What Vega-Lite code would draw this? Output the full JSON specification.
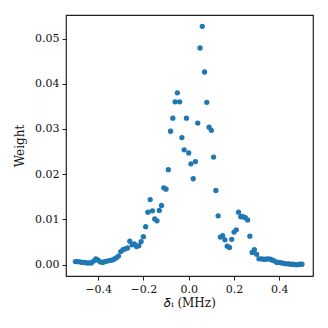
{
  "$schema": "https://vega.github.io/schema/vega-lite/v6.json",
  "width": 247,
  "height": 261,
  "autosize": {"type": "none"},
  "padding": {"left": 66, "top": 15, "right": 15, "bottom": 52},
  "background": "white",
  "config": {
    "view": {"stroke": "#222", "strokeWidth": 1.2},
    "font": "DejaVu Serif",
    "axis": {
      "domain": false,
      "grid": false,
      "tickColor": "#222",
      "tickSize": 4,
      "tickWidth": 1,
      "labelFont": "DejaVu Serif",
      "labelFontSize": 11,
      "labelColor": "#111",
      "labelPadding": 3,
      "titleFont": "DejaVu Serif",
      "titleFontSize": 12,
      "titleFontWeight": "normal",
      "titleColor": "#111"
    }
  },
  "data": {"values": [
    {"x": -0.500, "y": 0.0007}, {"x": -0.490, "y": 0.0007}, {"x": -0.480, "y": 0.0006},
    {"x": -0.470, "y": 0.0005}, {"x": -0.460, "y": 0.0005}, {"x": -0.450, "y": 0.0004},
    {"x": -0.440, "y": 0.0004}, {"x": -0.430, "y": 0.0004}, {"x": -0.420, "y": 0.0008},
    {"x": -0.410, "y": 0.0013}, {"x": -0.400, "y": 0.0010}, {"x": -0.390, "y": 0.0006},
    {"x": -0.380, "y": 0.0005}, {"x": -0.370, "y": 0.0007}, {"x": -0.360, "y": 0.0008},
    {"x": -0.350, "y": 0.0009}, {"x": -0.340, "y": 0.0010}, {"x": -0.330, "y": 0.0012},
    {"x": -0.320, "y": 0.0015}, {"x": -0.310, "y": 0.0019}, {"x": -0.300, "y": 0.0029},
    {"x": -0.290, "y": 0.0033}, {"x": -0.280, "y": 0.0035}, {"x": -0.270, "y": 0.0037},
    {"x": -0.260, "y": 0.0052}, {"x": -0.250, "y": 0.0044}, {"x": -0.240, "y": 0.0046},
    {"x": -0.230, "y": 0.0040}, {"x": -0.220, "y": 0.0042}, {"x": -0.210, "y": 0.0051},
    {"x": -0.200, "y": 0.0062}, {"x": -0.190, "y": 0.0084}, {"x": -0.180, "y": 0.0116},
    {"x": -0.170, "y": 0.0144}, {"x": -0.160, "y": 0.0119}, {"x": -0.150, "y": 0.0101},
    {"x": -0.140, "y": 0.0097}, {"x": -0.130, "y": 0.0120}, {"x": -0.120, "y": 0.0131},
    {"x": -0.110, "y": 0.0170}, {"x": -0.100, "y": 0.0167}, {"x": -0.090, "y": 0.0210},
    {"x": -0.080, "y": 0.0295}, {"x": -0.070, "y": 0.0324}, {"x": -0.060, "y": 0.0360},
    {"x": -0.050, "y": 0.0380}, {"x": -0.040, "y": 0.0360}, {"x": -0.030, "y": 0.0281},
    {"x": -0.020, "y": 0.0254}, {"x": -0.010, "y": 0.0324}, {"x": 0.000, "y": 0.0247},
    {"x": 0.010, "y": 0.0223}, {"x": 0.020, "y": 0.0190}, {"x": 0.030, "y": 0.0228},
    {"x": 0.040, "y": 0.0313}, {"x": 0.050, "y": 0.0479}, {"x": 0.060, "y": 0.0527},
    {"x": 0.070, "y": 0.0426}, {"x": 0.080, "y": 0.0359}, {"x": 0.090, "y": 0.0304},
    {"x": 0.100, "y": 0.0297}, {"x": 0.110, "y": 0.0238}, {"x": 0.120, "y": 0.0164},
    {"x": 0.130, "y": 0.0108}, {"x": 0.140, "y": 0.0061}, {"x": 0.150, "y": 0.0064},
    {"x": 0.160, "y": 0.0055}, {"x": 0.170, "y": 0.0041}, {"x": 0.180, "y": 0.0038},
    {"x": 0.190, "y": 0.0056}, {"x": 0.200, "y": 0.0072}, {"x": 0.210, "y": 0.0077},
    {"x": 0.220, "y": 0.0116}, {"x": 0.230, "y": 0.0106}, {"x": 0.240, "y": 0.0106},
    {"x": 0.250, "y": 0.0104}, {"x": 0.260, "y": 0.0099}, {"x": 0.270, "y": 0.0063},
    {"x": 0.280, "y": 0.0027}, {"x": 0.290, "y": 0.0033}, {"x": 0.300, "y": 0.0023},
    {"x": 0.310, "y": 0.0013}, {"x": 0.320, "y": 0.0013}, {"x": 0.330, "y": 0.0012},
    {"x": 0.340, "y": 0.0012}, {"x": 0.350, "y": 0.0013}, {"x": 0.360, "y": 0.0012},
    {"x": 0.370, "y": 0.0010}, {"x": 0.380, "y": 0.0008}, {"x": 0.390, "y": 0.0005},
    {"x": 0.400, "y": 0.0005}, {"x": 0.410, "y": 0.0004}, {"x": 0.420, "y": 0.0003},
    {"x": 0.430, "y": 0.0002}, {"x": 0.440, "y": 0.0002}, {"x": 0.450, "y": 0.0001},
    {"x": 0.460, "y": 0.0001}, {"x": 0.470, "y": 0.0000}, {"x": 0.480, "y": 0.0000},
    {"x": 0.490, "y": 0.0001}, {"x": 0.500, "y": 0.0001}
  ]},
  "mark": {"type": "point", "filled": true, "opacity": 1, "size": 28, "color": "#1f77b4"},
  "encoding": {
    "x": {
      "field": "x", "type": "quantitative",
      "scale": {"domain": [-0.5416, 0.5487], "nice": false, "zero": false},
      "axis": {"values": [-0.4, -0.2, 0, 0.2, 0.4], "format": ".1f", "title": "𝛿ᵢ (MHz)", "titlePadding": 3}
    },
    "y": {
      "field": "y", "type": "quantitative",
      "scale": {"domain": [-0.0025, 0.0552], "nice": false, "zero": false},
      "axis": {"values": [0, 0.01, 0.02, 0.03, 0.04, 0.05], "format": ".2f", "title": "Weight", "titlePadding": 8}
    }
  }
}
